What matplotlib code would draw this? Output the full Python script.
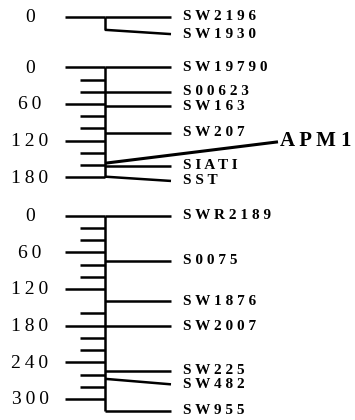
import matplotlib.pyplot as plt

# linkage groups: marker names, position on the map (cM) and where the label sits (cM)
g1_markers = ['SW2196', 'SW1930']
g1_pos = [0, 21]
g1_label = [0, 28]
g1_ticks = []
g1_numbers = [0]
g1_length = 21

g2_markers = ['SW19790', 'S00623', 'SW163', 'SW207', 'SIATI', 'SST']
g2_pos = [0, 40, 64, 107, 161, 179]
g2_label = [0, 40, 64, 107, 161, 186]
g2_ticks = [0, 20, 40, 60, 80, 100, 120, 140, 160, 180]
g2_numbers = [0, 60, 120, 180]
g2_length = 180

g3_markers = ['SWR2189', 'S0075', 'SW1876', 'SW2007', 'SW225', 'SW482', 'SW955']
g3_pos = [0, 74, 140, 181, 254, 267, 319]
g3_label = [0, 74, 140, 181, 254, 276, 319]
g3_ticks = [0, 20, 40, 60, 80, 100, 120, 160, 180, 200, 220, 240, 260, 280, 300]
g3_numbers = [0, 60, 120, 180, 240, 300]
g3_length = 319

gene = 'APM1'
gene_pos = 157
gene_label = 122

W, H = 355, 420
SCALE = 0.611  # px per cM
AX_X = 105
SERIF = ['Liberation Serif', 'DejaVu Serif']


def spaced(s, sep=' '):
    return sep.join(s)


def draw_group(fig, top, markers, pos, label, ticks, numbers, length):
    ax = fig.add_axes([0, 0, 1, 1])
    ax.set_xlim(0, W)
    ax.set_ylim((H - top) / SCALE, -top / SCALE)
    ax.axis('off')
    ax.patch.set_alpha(0)

    ax.plot([AX_X, AX_X], [0, length], color='black', lw=1.8, solid_capstyle='butt')
    for t in ticks:
        x0 = 65 if t in numbers else 80
        ax.plot([x0, AX_X], [t, t], color='black', lw=1.8, solid_capstyle='butt')
    for n in numbers:
        ax.text(30, n + 1.5, spaced(str(n), '\u2009'), ha='center', va='center',
                fontsize=14, family=SERIF)
    if not ticks:
        ax.plot([65, AX_X], [0, 0], color='black', lw=1.8, solid_capstyle='butt')

    for m, p, lp in zip(markers, pos, label):
        ax.plot([AX_X, 171], [p, lp], color='black', lw=1.8, solid_capstyle='butt')
        ax.text(183, lp, spaced(m), ha='left', va='center', fontsize=11,
                fontweight='bold', family=SERIF)
    return ax


fig = plt.figure(figsize=(W / 100, H / 100), dpi=100)

draw_group(fig, 17, g1_markers, g1_pos, g1_label, g1_ticks, g1_numbers, g1_length)
ax2 = draw_group(fig, 67.3, g2_markers, g2_pos, g2_label, g2_ticks, g2_numbers, g2_length)
draw_group(fig, 215.7, g3_markers, g3_pos, g3_label, g3_ticks, g3_numbers, g3_length)

ax2.plot([AX_X, 278], [gene_pos, gene_label], color='black', lw=2.2, solid_capstyle='butt')
ax2.text(280, gene_label - 2, spaced(gene), ha='left', va='center', fontsize=15,
         fontweight='bold', family=SERIF)

fig.savefig('out.png', dpi=100)
